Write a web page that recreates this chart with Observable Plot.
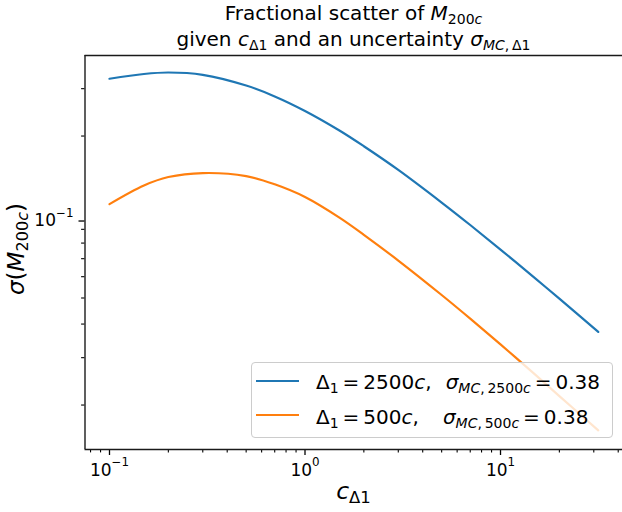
<!DOCTYPE html>
<html>
<head>
<meta charset="utf-8">
<script src="https://cdn.jsdelivr.net/npm/d3@7"></script>
<script src="https://cdn.jsdelivr.net/npm/@observablehq/plot@0.6"></script>
<style>
  html, body { margin: 0; padding: 0; background: white; }
  #fig { position: relative; width: 622px; height: 512px; font-family: "DejaVu Sans", sans-serif; color: #000; overflow: hidden; }
  #fig svg { position: absolute; left: 0; top: 0; }
  .tline { position: absolute; left: 84.5px; width: 538px; text-align: center; font-size: 20px; line-height: 28px; white-space: nowrap; }
  .ylabel { position: absolute; left: 16px; top: 249px; transform: translate(-50%, -50%) rotate(-90deg); font-size: 23px; line-height: 28px; white-space: nowrap; }
  .xlabel { position: absolute; left: 353.5px; top: 475.5px; transform: translateX(-50%); font-size: 23.5px; line-height: 30px; white-space: nowrap; }
  sub { font-size: 70%; vertical-align: -0.25em; line-height: 0; }
  i { font-style: italic; }
  .legend { position: absolute; left: 250.5px; top: 361.7px; width: 360px; height: 74.6px; background: rgba(255,255,255,0.8); border: 1px solid #cccccc; border-radius: 4px; }
  .sw { position: absolute; left: 256px; width: 43px; height: 2.2px; }
  .tx { position: absolute; left: 316px; font-size: 20px; line-height: 30px; white-space: nowrap; }
</style>
</head>
<body>
<div id="fig"></div>
<script>
// ---- data ----
const cValues   = [0.1, 0.15, 0.2, 0.3, 0.5, 0.7, 1, 1.5, 2, 3, 5, 7, 10, 15, 20, 31.62];
const sigma2500 = [0.3266, 0.3401, 0.3445, 0.3377, 0.3081, 0.2808, 0.2479, 0.2097, 0.1833, 0.1497, 0.1132, 0.0934, 0.0757, 0.0593, 0.0497, 0.0374];
const sigma500  = [0.1117, 0.1310, 0.1408, 0.1457, 0.1420, 0.1323, 0.1187, 0.0995, 0.0859, 0.0689, 0.0513, 0.0419, 0.0336, 0.0260, 0.0216, 0.0161];
const seriesNames = ["2500c", "500c"];
const seriesColors = ["#1f77b4", "#ff7f0e"];

const xMajorTicks = [0.1, 1, 10];
const xTickLabels = ["10^\u22121", "10^0", "10^1"];
const xMinorTicks = [0.08, 0.09, 0.2, 0.3, 0.4, 0.5, 0.6, 0.7, 0.8, 0.9, 2, 3, 4, 5, 6, 7, 8, 9, 20, 30, 40];
const yMajorTicks = [0.1];
const yTickLabels = ["10^\u22121"];
const yMinorTicks = [0.02, 0.03, 0.04, 0.05, 0.06, 0.07, 0.08, 0.09, 0.2, 0.3];

const xDomain = [0.07494, 42.07];
const yDomain = [0.01367, 0.3985];

// ---- build table ----
const rows = [];
cValues.forEach((c, i) => {
  rows.push({c, s: sigma2500[i], series: seriesNames[0]});
  rows.push({c, s: sigma500[i], series: seriesNames[1]});
});

const chart = Plot.plot({
  width: 622,
  height: 512,
  marginLeft: 84.5,
  marginRight: 0,
  marginTop: 55,
  marginBottom: 63,
  style: {fontFamily: "DejaVu Sans, sans-serif", fontSize: "17px", background: "transparent", color: "#000"},
  x: {type: "log", domain: xDomain},
  y: {type: "log", domain: yDomain},
  color: {domain: seriesNames, range: seriesColors},
  marks: [
    Plot.line(rows, {x: "c", y: "s", z: "series", stroke: "series", strokeWidth: 2.2, curve: "catmull-rom"}),
    Plot.axisX(xMinorTicks, {tickSize: 3.4, tickFormat: () => "", label: null, stroke: "#000", strokeWidth: 1.1}),
    Plot.axisX(xMajorTicks, {tickSize: 6, tickPadding: 8.6, tickFormat: d => xTickLabels[xMajorTicks.indexOf(d)], label: null, fontSize: 17, stroke: "#000", strokeWidth: 1.3}),
    Plot.axisY(yMinorTicks, {tickSize: 3.4, tickFormat: () => "", label: null, stroke: "#000", strokeWidth: 1.1}),
    Plot.axisY(yMajorTicks, {tickSize: 6, tickPadding: 5.5, dy: 4, tickFormat: d => yTickLabels[yMajorTicks.indexOf(d)], label: null, fontSize: 17, stroke: "#000", strokeWidth: 1.3}),
    Plot.ruleX([xDomain[0]], {stroke: "#1a1a1a", strokeWidth: 1.4}),
    Plot.ruleY([yDomain[0], yDomain[1]], {stroke: "#1a1a1a", strokeWidth: 1.4})
  ]
});

// render "10^e" tick labels with a real superscript
chart.querySelectorAll("text").forEach(t => {
  const m = t.textContent.match(/^10\^(.+)$/);
  if (m) {
    t.textContent = "10";
    const ts = document.createElementNS("http://www.w3.org/2000/svg", "tspan");
    ts.setAttribute("font-size", "70%");
    ts.setAttribute("dy", "-9.7");
    ts.textContent = m[1];
    t.appendChild(ts);
  }
});

const fig = document.getElementById("fig");
fig.appendChild(chart);

fig.insertAdjacentHTML("beforeend", `
  <div class="tline" style="top:-1px">Fractional scatter of <i>M</i><sub>200<i>c</i></sub></div>
  <div class="tline" style="top:24.5px">given <i>c</i><sub>\u03941</sub> and an uncertainty <i>\u03C3</i><sub><i>MC</i>,\u2009\u03941</sub></div>
  <div class="ylabel"><i>\u03C3</i>(<i>M</i><sub>200<i>c</i></sub>)</div>
  <div class="xlabel"><i>c</i><sub>\u03941</sub></div>
  <div class="legend"></div>
  <div class="sw" style="top:379.6px;background:${seriesColors[0]}"></div>
  <div class="tx" style="top:367.4px">\u0394<sub>1</sub>\u2009=\u20092500<i>c</i>,\u2002\u2009<i>\u03C3</i><sub><i>MC</i>,\u20092500<i>c</i></sub>\u2009=\u20090.38</div>
  <div class="sw" style="top:414.2px;background:${seriesColors[1]}"></div>
  <div class="tx" style="top:402.1px">\u0394<sub>1</sub>\u2009=\u2009500<i>c</i>,\u2003\u2009<i>\u03C3</i><sub><i>MC</i>,\u2009500<i>c</i></sub>\u2009=\u20090.38</div>
`);
</script>
</body>
</html>
